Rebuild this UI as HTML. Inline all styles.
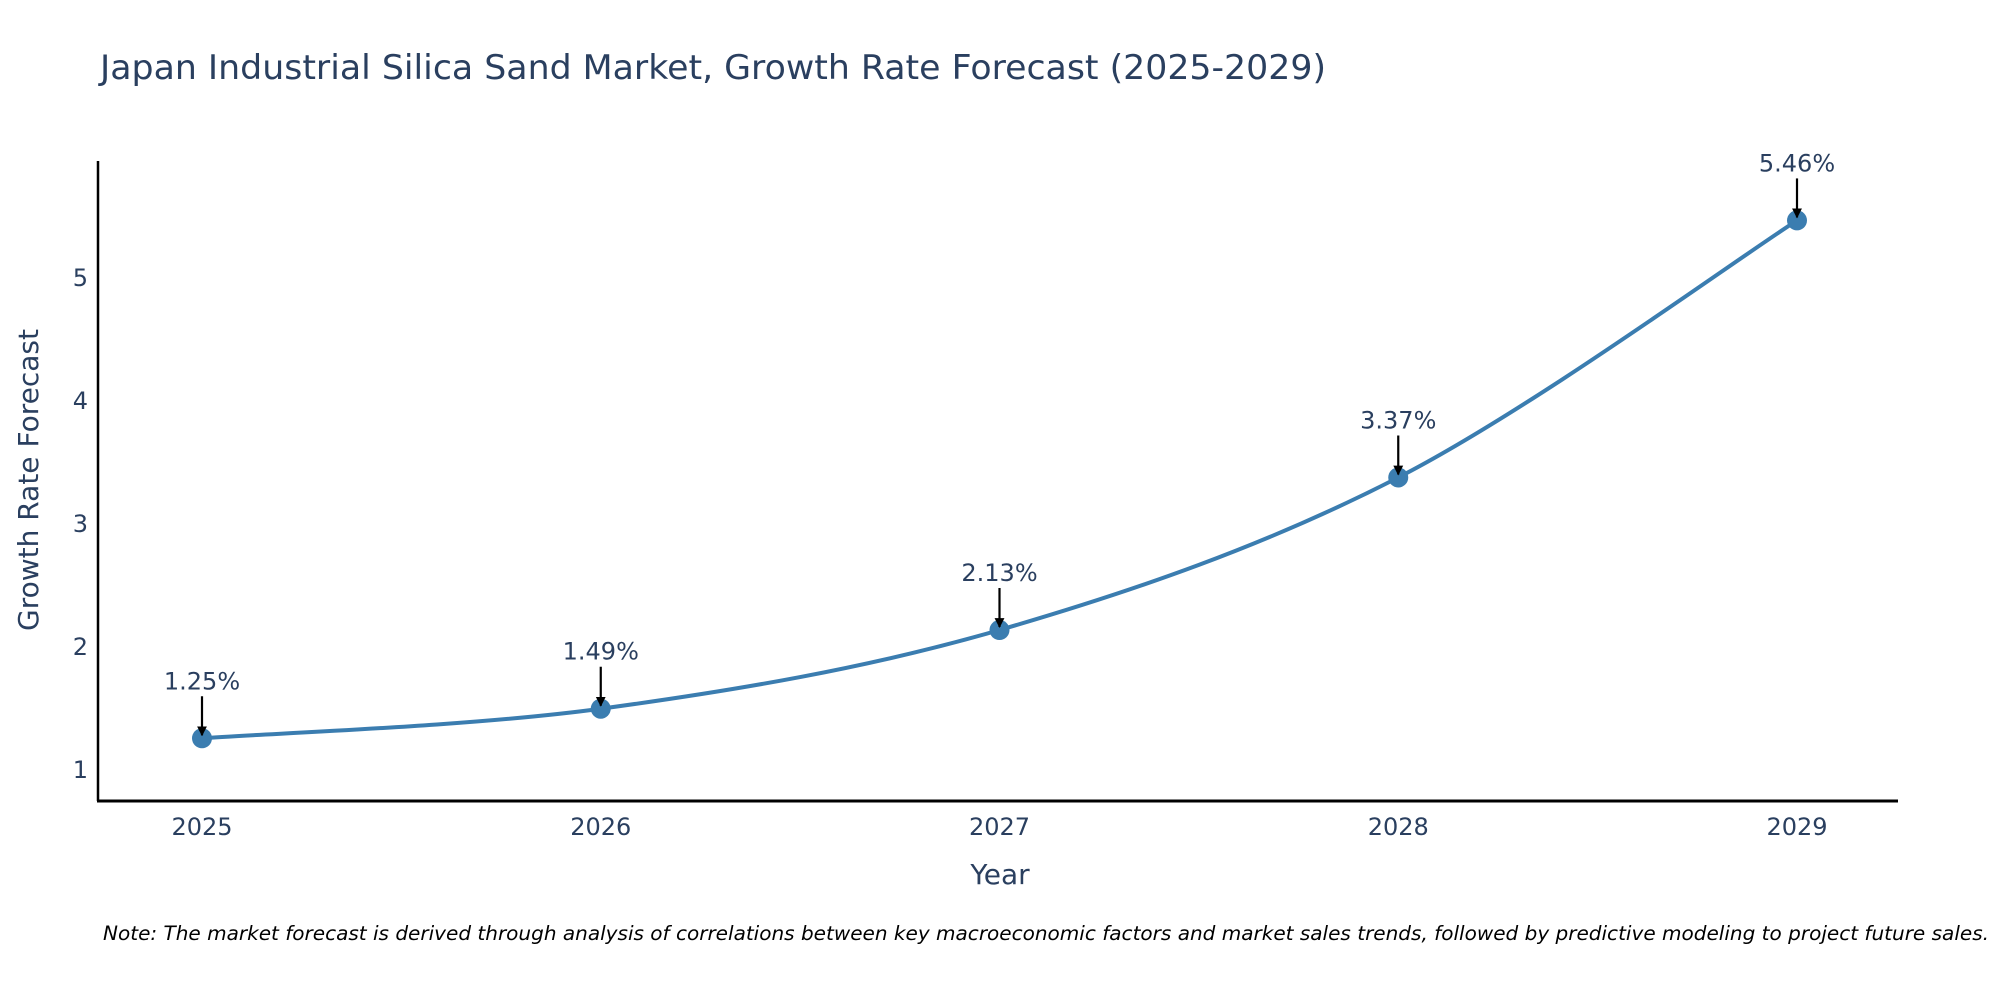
<!DOCTYPE html>
<html><head><meta charset="utf-8"><style>
body{margin:0;background:#fff;width:2000px;height:1000px;overflow:hidden}
svg text{font-family:"DejaVu Sans","Liberation Sans",sans-serif;fill:#2a3f5f}
</style></head><body>
<svg id="chart" width="2000" height="1000" xmlns="http://www.w3.org/2000/svg">
<defs><marker id="ah" viewBox="0 0 10 10" refX="9" refY="5" markerWidth="4.5" markerHeight="5" orient="auto" markerUnits="strokeWidth"><path d="M0,0L10,5L0,10z" fill="#000"/></marker></defs>
<text x="100" y="79" font-size="34" textLength="1226" lengthAdjust="spacingAndGlyphs">Japan Industrial Silica Sand Market, Growth Rate Forecast (2025-2029)</text>
<g id="axes"></g>
<g id="series"></g>
<text x="1000" y="884" font-size="28" text-anchor="middle">Year</text>
<text transform="translate(38,480) rotate(-90)" font-size="28" text-anchor="middle" textLength="302" lengthAdjust="spacingAndGlyphs">Growth Rate Forecast</text>
<text x="103" y="940" font-size="19.5" font-style="italic" textLength="1886" lengthAdjust="spacingAndGlyphs" style="fill:#000">Note: The market forecast is derived through analysis of correlations between key macroeconomic factors and market sales trends, followed by predictive modeling to project future sales.</text>
</svg>
<script>
const categories=["2025","2026","2027","2028","2029"];
const values=[1.25,1.49,2.13,3.37,5.46];
const yTicks=[1,2,3,4,5];
const ns="http://www.w3.org/2000/svg";
const X=i=>202+i*(1797-202)/4;
const Y=v=>769-(v-1)*123;
function mk(t,a,p){const e=document.createElementNS(ns,t);for(const k in a)e.setAttribute(k,a[k]);p.appendChild(e);return e;}
const ax=document.getElementById('axes'),sr=document.getElementById('series');
const yl=mk('line',{x1:98,y1:161,x2:98,y2:801,stroke:'#000','stroke-width':2.5},ax);


const xl=mk('line',{x1:97,y1:801,x2:1898,y2:801,stroke:'#000','stroke-width':3},ax);


yTicks.forEach(t=>{const e=mk('text',{x:88,y:Y(t)+9,'font-size':24,'text-anchor':'end'},ax);e.textContent=t;

});
categories.forEach((c,i)=>{const e=mk('text',{x:X(i),y:835,'font-size':24,'text-anchor':'middle'},ax);e.textContent=c;

});
const pts=values.map((v,i)=>[X(i),Y(v)]);
let d='M'+pts[0];
for(let i=0;i<pts.length-1;i++){const p0=pts[Math.max(i-1,0)],p1=pts[i],p2=pts[i+1],p3=pts[Math.min(i+2,pts.length-1)];const s=6;
d+=' C'+(p1[0]+(p2[0]-p0[0])/s)+','+(p1[1]+(p2[1]-p0[1])/s)+' '+(p2[0]-(p3[0]-p1[0])/s)+','+(p2[1]-(p3[1]-p1[1])/s)+' '+p2[0]+','+p2[1];}
const ln=mk('path',{d:d,fill:'none',stroke:'#3b7db0','stroke-width':4},sr);


pts.forEach((p,i)=>{const c=mk('circle',{cx:p[0],cy:p[1],r:10,fill:'#3b7db0'},sr);


const a=mk('line',{x1:p[0],y1:p[1]-42,x2:p[0],y2:p[1]-3,stroke:'#000','stroke-width':2.2,'marker-end':'url(#ah)'},sr);


const t=mk('text',{x:p[0],y:p[1]-49,'font-size':24,'text-anchor':'middle'},sr);t.textContent=values[i].toFixed(2)+'%';

});
</script>
</body></html>
